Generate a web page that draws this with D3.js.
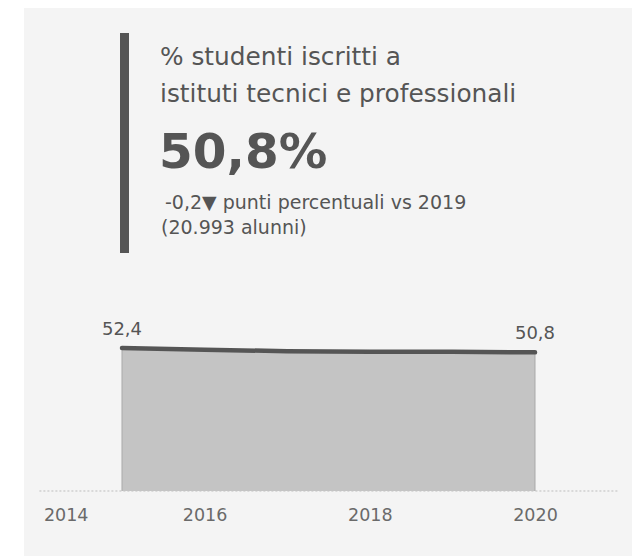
<!DOCTYPE html>
<html>
<head>
<meta charset="utf-8">
<script src="https://cdn.jsdelivr.net/npm/d3@7"></script>
<style>
html,body{margin:0;padding:0;background:#fff;}
svg{display:block;font-family:"DejaVu Sans",sans-serif;}
</style>
</head>
<body>
<svg id="chart" width="637" height="557"></svg>
<script>
const years = [2015, 2016, 2017, 2018, 2019, 2020];
const values = [52.4, 51.8, 51.2, 51.0, 51.0, 50.8];
const tickYears = [2014, 2016, 2018, 2020];
const titleLines = ["% studenti iscritti a", "istituti tecnici e professionali"];
const kpiValue = "50,8%";
const deltaText = "-0,2\u25BC punti percentuali vs 2019";
const countText = "(20.993 alunni)";
const fmt = v => d3.format(".1f")(v).replace(".", ",");
const FONT = "'DejaVu Sans',sans-serif";

const svg = d3.select("#chart");
svg.append("rect").attr("x",24).attr("y",8).attr("width",608).attr("height",548).attr("fill","#f4f4f4");

// KPI header
svg.append("rect").attr("x",120).attr("y",33).attr("width",9).attr("height",220).attr("fill","#555");
const tl = svg.append("g").attr("fill","#555");
titleLines.forEach((t,i)=>{
  tl.append("text").attr("x",160).attr("y",65+i*37).attr("font-size",24.8).text(t);
});
tl.append("text").attr("x",159).attr("y",168).attr("font-size",48.5).attr("font-weight","bold").text(kpiValue);
tl.append("text").attr("x",165).attr("y",209).attr("font-size",19).text(deltaText);
tl.append("text").attr("x",161).attr("y",234).attr("font-size",19).text(countText);

// chart
const x = d3.scaleLinear().domain([2014, 2021]).range([39.4, 617.6]);
const y = d3.scaleLinear().domain([0, 52.4]).range([491, 348]);

svg.append("line").attr("x1",x(2014)).attr("x2",x(2021)).attr("y1",y(0)).attr("y2",y(0))
  .attr("stroke","#bdbdbd").attr("stroke-width",1).attr("stroke-dasharray","2,2");

const data = years.map((yr,i)=>({yr, v: values[i]}));
svg.append("path").datum(data)
  .attr("d", d3.area().x(d=>x(d.yr)).y0(y(0)).y1(d=>y(d.v)))
  .attr("fill","#c4c4c4");
[data[0], data[data.length-1]].forEach(d=>{
  svg.append("line").attr("x1",x(d.yr)).attr("x2",x(d.yr)).attr("y1",y(d.v)).attr("y2",y(0))
    .attr("stroke","#a9a9a9").attr("stroke-width",1);
});
svg.append("path").datum(data)
  .attr("d", d3.line().x(d=>x(d.yr)).y(d=>y(d.v)))
  .attr("fill","none").attr("stroke","#555").attr("stroke-width",4.5).attr("stroke-linecap","round");

// end labels
[data[0], data[data.length-1]].forEach(d=>{
  svg.append("text").attr("x",x(d.yr)).attr("y",y(d.v)-13).attr("text-anchor","middle")
    .attr("font-size",18).attr("fill","#555").text(fmt(d.v));
});

// x axis
const axis = d3.axisBottom(x).tickValues(tickYears).tickFormat(d3.format("d")).tickSize(0).tickPadding(0);
const ag = svg.append("g").attr("transform",`translate(0,${y(0)})`).call(axis);
ag.select(".domain").remove();
ag.selectAll("text").attr("font-size",17.5).attr("fill","#6a6a6a").attr("font-family",FONT)
  .attr("dy",null).attr("y",30)
  .attr("text-anchor",(d,i)=> i===0 ? "start" : "middle")
  .attr("x",(d,i)=> i===0 ? 4 : 0);
</script>
</body>
</html>
